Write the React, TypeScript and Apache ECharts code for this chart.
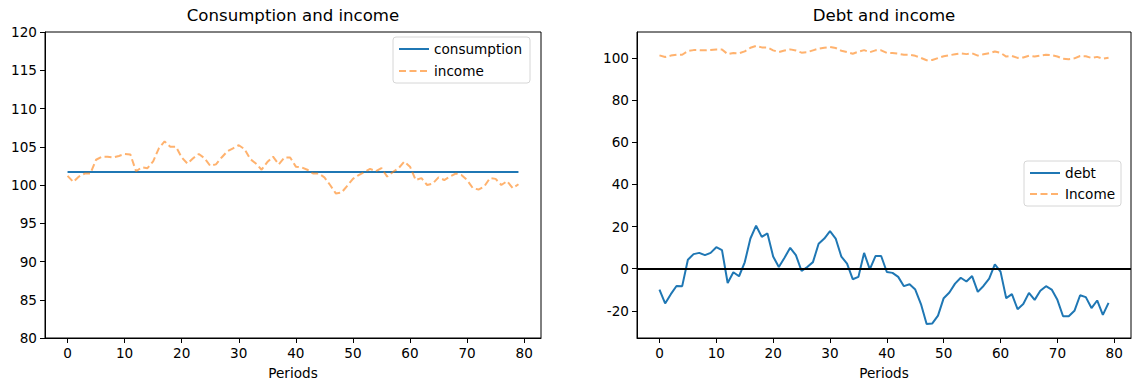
import React, { useEffect, useRef } from "react";
import * as echarts from "echarts";

const consumptionPeriods = [0, 79];
const consumption = [101.7, 101.7];

const income = [
  101.2, 100.4, 101.1, 101.5, 101.5, 103.3, 103.7, 103.7, 103.6, 103.8,
  104.05, 104.0, 101.8, 102.3, 102.2, 103.1, 104.8, 105.7, 105.0, 105.0,
  103.6, 102.8, 103.5, 104.05, 103.5, 102.5, 102.7, 103.6, 104.4, 104.8,
  105.2, 104.7, 103.4, 102.8, 102.0, 103.0, 103.7, 102.7, 103.6, 103.6,
  102.4, 102.3, 102.0, 101.5, 101.5, 101.0, 100.0, 98.9, 99.0, 99.9,
  100.8, 101.3, 101.7, 102.1, 101.8, 102.2, 101.1, 101.7, 102.2, 103.05,
  102.4, 100.65, 100.9, 100.0, 100.2, 101.0, 100.65, 101.1, 101.5, 101.3,
  100.65, 99.6, 99.4, 99.8, 100.9, 100.8, 100.0, 100.5, 99.6, 100.1,
];

const debt = [
  -9.9, -16.5, -12.1, -8.2, -8.3, 4.2, 6.9, 7.5, 6.4, 7.5,
  10.2, 8.8, -6.8, -1.7, -3.6, 3.0, 14.3, 20.4, 15.1, 16.7,
  5.8, 0.8, 5.2, 9.9, 6.4, -1.1, 0.8, 3.1, 11.8, 14.3,
  17.8, 14.3, 5.7, 2.4, -5.0, -3.9, 7.5, -0.3, 6.0, 6.0,
  -1.6, -2.0, -3.9, -8.3, -7.4, -9.9, -16.8, -26.3, -26.0, -22.3,
  -14.0, -11.3, -7.1, -4.3, -6.1, -3.5, -11.0, -8.2, -4.7, 2.0,
  -1.4, -14.0, -12.1, -19.2, -16.8, -11.5, -14.8, -10.5, -8.3, -9.9,
  -14.8, -22.6, -22.6, -20.0, -12.6, -13.5, -18.7, -15.1, -21.9, -16.2,
];

const xTicks = [0, 10, 20, 30, 40, 50, 60, 70, 80];
const rightYTicks = [-20, 0, 20, 40, 60, 80, 100];

const BLUE = "#1f77b4";
const ORANGE = "rgba(255,127,14,0.6)";
const FONT = "DejaVu Sans";
const SMALL = 13.6;

export default function App() {
  const ref = useRef<HTMLDivElement>(null);
  useEffect(() => {
    if (!ref.current) return;
    const chart = echarts.init(ref.current, undefined, { renderer: "svg" });

    const n = income.length;
    const xMin = -(n - 1) * 0.05;
    const xMax = (n - 1) * 1.05;
    const allRight = debt.concat(income);
    const rMinD = Math.min(...allRight);
    const rMaxD = Math.max(...allRight);
    const rPad = (rMaxD - rMinD) * 0.05;

    const tickLabel = { color: "#000", fontSize: SMALL, fontFamily: FONT, margin: 8 };
    const axisLine = { show: true, onZero: false, lineStyle: { color: "#000", width: 1 } };
    const axisTick = { show: true, length: 5, lineStyle: { color: "#000", width: 1 } };

    const xAxisBase = (gridIndex: number) => ({
      type: "value",
      gridIndex,
      min: xMin,
      max: xMax,
      name: "Periods",
      nameLocation: "middle",
      nameGap: 28,
      nameTextStyle: { color: "#000", fontSize: SMALL, fontFamily: FONT },
      axisLine,
      axisTick: { ...axisTick, customValues: xTicks },
      axisLabel: { ...tickLabel, customValues: xTicks },
      splitLine: { show: false },
    });

    const legendBase = {
      orient: "vertical",
      itemWidth: 30,
      itemHeight: 14,
      backgroundColor: "#fff",
      borderColor: "#d6d6d6",
      borderWidth: 1,
      borderRadius: 3,
      itemStyle: { opacity: 0, borderWidth: 0 },
      textStyle: { color: "#000", fontSize: SMALL, fontFamily: FONT },
    };

    const option: any = {
      animation: false,
      backgroundColor: "#fff",
      textStyle: { fontFamily: FONT },
      title: [
        {
          text: "Consumption and income",
          left: 293,
          top: 7,
          textAlign: "center",
          padding: 0,
          textStyle: { color: "#000", fontSize: 16.6, fontWeight: "normal", fontFamily: FONT },
        },
        {
          text: "Debt and income",
          left: 884,
          top: 7,
          textAlign: "center",
          padding: 0,
          textStyle: { color: "#000", fontSize: 16.6, fontWeight: "normal", fontFamily: FONT },
        },
      ],
      grid: [
        { left: 45, top: 32, width: 496, height: 306, show: true, borderColor: "#000", borderWidth: 1, backgroundColor: "transparent" },
        { left: 637, top: 32, width: 494, height: 306, show: true, borderColor: "#000", borderWidth: 1, backgroundColor: "transparent" },
      ],
      legend: [
        {
          ...legendBase,
          data: ["consumption", "income"],
          left: 393,
          top: 37,
          itemGap: 8,
          padding: [5, 8, 5, 5],
        },
        {
          ...legendBase,
          data: ["debt", "Income"],
          left: 1024,
          top: 161,
          itemGap: 7,
          padding: [5, 6, 5, 5],
        },
      ],
      xAxis: [xAxisBase(0), xAxisBase(1)],
      yAxis: [
        {
          type: "value",
          gridIndex: 0,
          min: 80,
          max: 120,
          interval: 5,
          axisLine,
          axisTick,
          axisLabel: tickLabel,
          splitLine: { show: false },
        },
        {
          type: "value",
          gridIndex: 1,
          min: rMinD - rPad,
          max: rMaxD + rPad,
          axisLine,
          axisTick: { ...axisTick, customValues: rightYTicks },
          axisLabel: { ...tickLabel, customValues: rightYTicks },
          splitLine: { show: false },
        },
      ],
      series: [
        {
          name: "consumption",
          type: "line",
          xAxisIndex: 0,
          yAxisIndex: 0,
          symbol: "none",
          data: consumptionPeriods.map((p, i) => [p, consumption[i]]),
          lineStyle: { color: BLUE, width: 2 },
          itemStyle: { color: BLUE },
          z: 2,
        },
        {
          name: "income",
          type: "line",
          xAxisIndex: 0,
          yAxisIndex: 0,
          symbol: "none",
          data: income.map((v, i) => [i, v]),
          lineStyle: { color: ORANGE, width: 2, type: [7, 3.5] },
          itemStyle: { color: ORANGE },
          z: 3,
        },
        {
          name: "debt",
          type: "line",
          xAxisIndex: 1,
          yAxisIndex: 1,
          symbol: "none",
          data: debt.map((v, i) => [i, v]),
          lineStyle: { color: BLUE, width: 2 },
          itemStyle: { color: BLUE },
          markLine: {
            silent: true,
            symbol: "none",
            label: { show: false },
            lineStyle: { color: "#000", width: 2, type: "solid" },
            data: [{ yAxis: 0 }],
            z: 5,
          },
          z: 2,
        },
        {
          name: "Income",
          type: "line",
          xAxisIndex: 1,
          yAxisIndex: 1,
          symbol: "none",
          data: income.map((v, i) => [i, v]),
          lineStyle: { color: ORANGE, width: 2, type: [7, 3.5] },
          itemStyle: { color: ORANGE },
          z: 3,
        },
      ],
    };
    chart.setOption(option);
    return () => chart.dispose();
  }, []);

  return (
    <div
      ref={ref}
      style={{ position: "fixed", left: 0, top: 0, width: 1141, height: 391, background: "#fff" }}
    />
  );
}
